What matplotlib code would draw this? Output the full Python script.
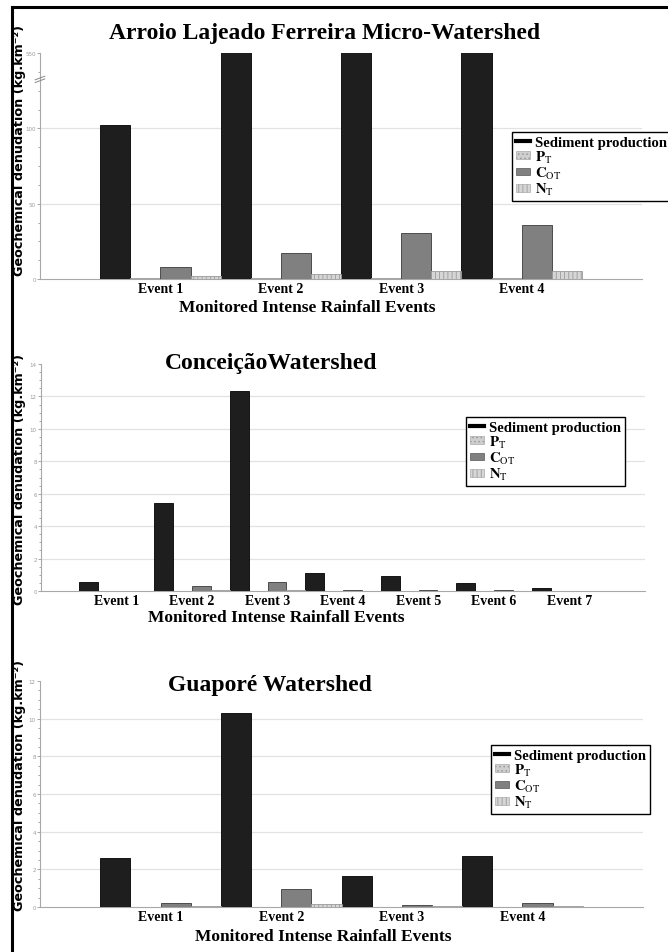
import numpy as np
import matplotlib
matplotlib.use("Agg")
import matplotlib.pyplot as plt
from matplotlib.lines import Line2D
from matplotlib.patches import Patch
from matplotlib.ticker import AutoMinorLocator

plt.rcParams['mathtext.fontset'] = 'stix'
plt.rcParams['hatch.linewidth'] = 0.6
plt.rcParams['hatch.color'] = '#8a8a8a'

# --- data -------------------------------------------------------------
series = ["Sediment production", "P_T", "C_OT", "N_T"]

arroio_events = ["Event 1", "Event 2", "Event 3", "Event 4"]
arroio_sed = [102.2, 550, 550, 550]
arroio_pt = [0.4, 0.5, 0.6, 0.7]
arroio_cot = [8.2, 17.3, 30.5, 36.0]
arroio_nt = [2.2, 3.5, 5.5, 5.5]

conc_events = ["Event 1", "Event 2", "Event 3", "Event 4", "Event 5", "Event 6", "Event 7"]
conc_sed = [0.55, 5.43, 12.35, 1.1, 0.9, 0.5, 0.2]
conc_pt = [0.01, 0.02, 0.02, 0.01, 0.01, 0.01, 0.01]
conc_cot = [0.03, 0.33, 0.55, 0.06, 0.05, 0.04, 0.02]
conc_nt = [0.02, 0.06, 0.08, 0.02, 0.02, 0.01, 0.01]

guap_events = ["Event 1", "Event 2", "Event 3", "Event 4"]
guap_sed = [2.6, 10.3, 1.62, 2.7]
guap_pt = [0.01, 0.02, 0.01, 0.01]
guap_cot = [0.2, 0.98, 0.1, 0.2]
guap_nt = [0.05, 0.15, 0.03, 0.04]

# --- styles -----------------------------------------------------------
serif = "Liberation Serif"
styles = [dict(color="#1e1e1e", edgecolor="#000000", hatch=None),
          dict(color="#cfcfcf", edgecolor="#9a9a9a", hatch="...."),
          dict(color="#808080", edgecolor="#3a3a3a", hatch=None),
          dict(color="#d6d6d6", edgecolor="#9a9a9a", hatch="||||")]
legend_labels = ["Sediment production",
                 r"$\mathbf{P}_{\mathrm{T}}$",
                 r"$\mathbf{C}_{\mathrm{OT}}$",
                 r"$\mathbf{N}_{\mathrm{T}}$"]

W, H = 668, 953
fig = plt.figure(figsize=(W / 100, H / 100), dpi=100)


def px(x, y):
    return x / W, 1 - y / H


def panel(rect, events, values, ylim, yticks, yticklabels, title, title_xy,
          legend_xy, ylabel_y, xlabel_xy, break_at=None):
    l, t, r, b = rect
    x0, y1 = px(l, t)
    x1, y0 = px(r, b)
    ax = fig.add_axes([x0, y0, x1 - x0, y1 - y0])
    n = len(events)
    x = np.arange(n)
    w = 0.25
    for k, vals in enumerate(values):
        st = styles[k]
        ax.bar(x - 0.375 + k * w, vals, width=w, color=st["color"],
               edgecolor=st["edgecolor"], hatch=st["hatch"], linewidth=0.6,
               zorder=3)
    ax.set_xlim(-1, n)
    ax.set_ylim(*ylim)
    ax.set_yticks(yticks)
    ax.set_yticklabels(yticklabels)
    ax.yaxis.set_minor_locator(AutoMinorLocator(4))
    for yv in yticks[1:-1]:
        ax.axhline(yv, color="#e2e2e2", lw=0.9, zorder=1)
    ax.tick_params(axis="y", which="both", colors="#9a9a9a", labelsize=4.0,
                   length=2.5, width=0.6, pad=0.5, direction="out")
    ax.tick_params(axis="y", which="minor", length=1.3)
    ax.set_xticks(x)
    ax.set_xticklabels(events, fontfamily=serif, fontweight="bold", fontsize=10)
    ax.tick_params(axis="x", length=0, pad=2)
    for s in ["top", "right"]:
        ax.spines[s].set_visible(False)
    for s in ["left", "bottom"]:
        ax.spines[s].set_color("#a8a8a8")
        ax.spines[s].set_linewidth(0.8)

    if break_at is not None:
        yb = break_at / ylim[1]
        for d in (-0.006, 0.006):
            ax.plot([-0.008, 0.008], [yb - 0.008 + d, yb + 0.008 + d],
                    transform=ax.transAxes, color="#888888", lw=0.7,
                    clip_on=False, zorder=5)

    fig.text(*px(*title_xy), title, ha="center", va="center",
             fontfamily=serif, fontweight="bold", fontsize=17)
    fig.text(*px(*xlabel_xy), "Monitored Intense Rainfall Events",
             ha="center", va="center", fontfamily=serif, fontweight="bold",
             fontsize=12.5)
    fig.text(20 / W, 1 - ylabel_y / H, "Geochemical denudation (kg.km⁻²)",
             rotation=90, ha="center", va="center", fontfamily="DejaVu Sans",
             fontweight="bold", fontsize=9.2)

    handles = [Line2D([0], [0], color="#000000", lw=3)]
    for k in range(1, 4):
        st = styles[k]
        handles.append(Patch(facecolor=st["color"], edgecolor=st["edgecolor"],
                             hatch=st["hatch"], linewidth=0.4))
    leg = ax.legend(handles, legend_labels, loc="upper left",
                    bbox_to_anchor=px(*legend_xy),
                    bbox_transform=fig.transFigure, fancybox=False,
                    framealpha=1, edgecolor="#000000", handlelength=1.0,
                    handleheight=0.45, handletextpad=0.3, labelspacing=0.0,
                    borderpad=0.25, borderaxespad=0,
                    prop=dict(family=serif, weight="bold", size=10.6))
    leg.get_frame().set_linewidth(1.0)
    leg.set_zorder(10)
    return ax


panel((40, 54, 642, 280), arroio_events,
      [arroio_sed, arroio_pt, arroio_cot, arroio_nt],
      (0, 150), [0, 50, 100, 150], ["0", "50", "100", "550"],
      "Arroio Lajeado Ferreira Micro-Watershed", (325, 33),
      (512, 133), 150, (307, 308), break_at=132.5)

panel((41, 365, 645, 592), conc_events,
      [conc_sed, conc_pt, conc_cot, conc_nt],
      (0, 14), list(range(0, 15, 2)), [str(v) for v in range(0, 15, 2)],
      "ConceiçãoWatershed", (271, 363),
      (466, 418), 480, (276, 618))

panel((40, 682, 643, 908), guap_events,
      [guap_sed, guap_pt, guap_cot, guap_nt],
      (0, 12), list(range(0, 13, 2)), [str(v) for v in range(0, 13, 2)],
      "Guaporé Watershed", (270, 685),
      (491, 746), 786, (323, 937))

# frame lines along the top and left of the figure
fig.add_artist(Line2D([11.5 / W, 1], [1 - 8 / H, 1 - 8 / H], color="black",
                      lw=2.2, transform=fig.transFigure))
fig.add_artist(Line2D([11.5 / W, 11.5 / W], [0, 1 - 8 / H], color="black",
                      lw=2.2, transform=fig.transFigure))

fig.savefig("out.png", dpi=100)
